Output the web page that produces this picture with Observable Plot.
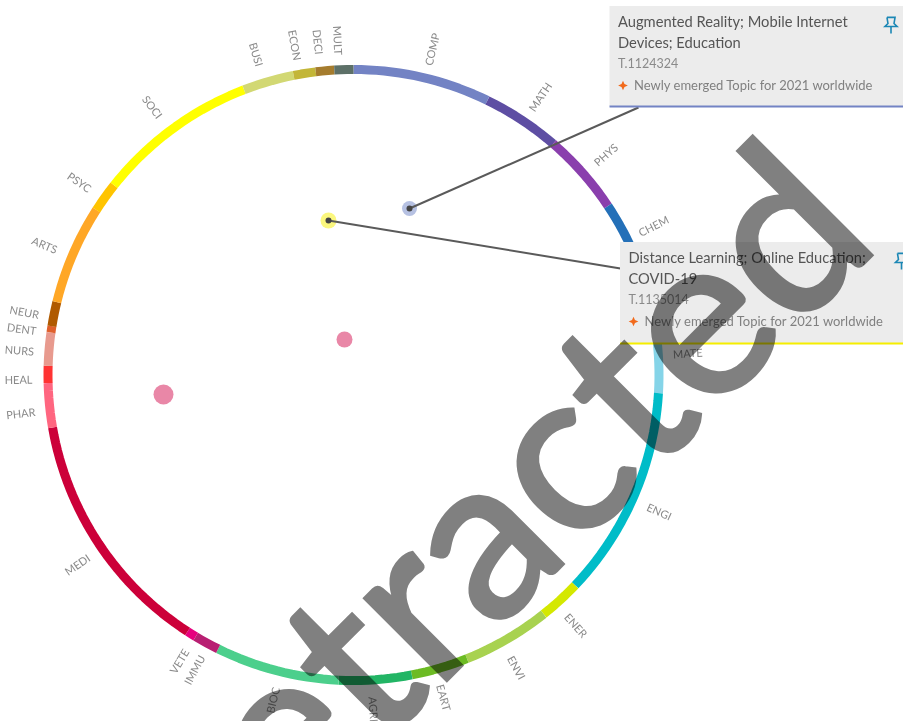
<!DOCTYPE html>
<html><head><meta charset="utf-8">
<style>html,body{margin:0;padding:0;background:#fff;overflow:hidden}svg{display:block}</style>
<script src="https://cdn.jsdelivr.net/npm/d3@7"></script>
<script src="https://cdn.jsdelivr.net/npm/@observablehq/plot@0.6"></script>
</head><body><div id="chart"></div>
<script>
const fields = ["COMP","MATH","PHYS","CHEM","MATE","ENGI","ENER","ENVI","EART","AGRI","BIOC","IMMU","VETE","MEDI","PHAR","HEAL","NURS","DENT","NEUR","ARTS","PSYC","SOCI","BUSI","ECON","DECI","MULT"];
const arcEnds = [26,40.8,56.4,72,93.4,133.5,141.5,158.2,169,182.8,206.3,211.1,212.9,260.1,268.5,271.7,278,279.2,283.8,302.7,308.4,339,348.7,352.9,356.4,360];
const fieldColors = ["#7383c4","#5e4ea3","#8a3fad","#2470b8","#85d4e8","#00bcc8","#d4e800","#a8d250","#6cbb23","#22b565","#4ccf8c","#b81f72","#e6007e","#cc0039","#ff6680","#ff3333","#e89a8e","#e0602c","#b05a00","#ffa726","#ffc400","#ffff00","#d2d873","#c3b638","#a57c2e","#5d7068"];
const labelAngles = [13.7,34,49,63.7,86.4,114.2,138.5,151,164.5,176.7,193.8,208.2,211.2,235.4,263.3,269.1,274.1,277.8,280.7,292.7,305,323,343,349.8,353.8,357.2];
const ringRadius = 305.5, labelRadius = 335;

const topicX = [56,-25,-9,-190];
const topicY = [166.5,154.5,35.5,-19.5];
const topicColors = ["#b6c1e2","#fbf77e","#e987a7","#e987a7"];
const topicR = [7.5,8,8,10];
const leaderEndX = [285,267];
const leaderEndY = [267.5,106.5];
const leaderStartX = [56,-25];
const leaderStartY = [166.5,154.5];

const cardIds = ["T.1124324","T.1135014"];
const cardTitles = [["Augmented Reality; Mobile Internet","Devices; Education"],["Distance Learning; Online Education;","COVID-19"]];
const cardNote = "Newly emerged Topic for 2021 worldwide";
const cardX = [256.5,267];
const cardTop = [368.5,132.5];
const cardBottom = [268.5,31.5];
const cardAccent = ["#7383c4","#f5ee00"];
const watermark = "Retracted";

const rad = d => d * Math.PI / 180;
const polarX = (a, r) => r * Math.sin(rad(a));
const polarY = (a, r) => r * Math.cos(rad(a));
const ring = fields.flatMap((f, i) => {
  const a0 = i ? arcEnds[i - 1] : 0, a1 = arcEnds[i];
  const n = Math.max(2, Math.ceil((a1 - a0) / 1.5));
  return d3.range(n + 1).map(k => ({f, a: a0 + (a1 - a0) * k / n}));
});
const labels = fields.map((f, i) => ({f, a: labelAngles[i]}));
const leaders = leaderStartX.map((x, i) => ({x1: x, y1: leaderStartY[i], x2: leaderEndX[i], y2: leaderEndY[i]}));
const topics = topicX.map((x, i) => ({x, y: topicY[i], c: topicColors[i], r: topicR[i]}));
const cards = cardIds.map((id, i) => ({id, i, x: cardX[i], top: cardTop[i], bottom: cardBottom[i], accent: cardAccent[i]}));
const titleLines = cards.flatMap((c, i) => cardTitles[i].map((t, k) => ({t, x: c.x + 8, y: c.top - 16 - k * 21})));
const pin = {draw(ctx, size) {
  const s = Math.sqrt(size) / 14;
  const P = [[-4,-7],[4,-7],[3,-1],[6,2],[-6,2],[-3,-1],[-4,-7]];
  P.forEach((p, i) => i ? ctx.lineTo(p[0]*s, p[1]*s) : ctx.moveTo(p[0]*s, p[1]*s));
  ctx.moveTo(0, 2*s); ctx.lineTo(0, 9*s);
}};
const spark = {draw(ctx, size) {
  const s = Math.sqrt(size) / 2;
  ctx.moveTo(0,-s); ctx.lineTo(s*.3,-s*.3); ctx.lineTo(s,0); ctx.lineTo(s*.3,s*.3);
  ctx.lineTo(0,s); ctx.lineTo(-s*.3,s*.3); ctx.lineTo(-s,0); ctx.lineTo(-s*.3,-s*.3); ctx.closePath();
}};
const font = "'Lato','Open Sans',sans-serif";

const chart = Plot.plot({
  width: 903, height: 721, margin: 0,
  x: {domain: [-353, 550], range: [0, 903], axis: null},
  y: {domain: [-346.5, 374.5], range: [721, 0], axis: null},
  r: {type: "identity"},
  color: {domain: fields, range: fieldColors},
  style: {background: "#fff", fontFamily: font},
  marks: [
    Plot.line(ring, {x: d => polarX(d.a, ringRadius), y: d => polarY(d.a, ringRadius), z: "f", stroke: "f", strokeWidth: 9, strokeLinecap: "butt", curve: "linear"}),
    Plot.text(labels, {x: d => polarX(d.a, labelRadius), y: d => polarY(d.a, labelRadius), text: "f",
      rotate: d => d.a < 180 ? d.a - 90 : d.a - 270, fontSize: 11, fill: "#8a8a8a", fontFamily: font}),
    Plot.dot(topics, {x: "x", y: "y", r: "r", fill: "c", stroke: null}),
    Plot.link(leaders, {x1: "x1", y1: "y1", x2: "x2", y2: "y2", stroke: "#5a5a5a", strokeWidth: 2}),
    Plot.dot(leaders, {x: "x1", y: "y1", r: () => 3, fill: "#444", stroke: null}),
    Plot.rect(cards, {x1: "x", x2: () => 550, y1: "bottom", y2: "top", fill: "#ececec"}),
    Plot.ruleY(cards, {y: "bottom", x1: "x", x2: () => 550, stroke: "accent", strokeWidth: 2}),
    Plot.text(titleLines, {x: "x", y: "y", text: "t", textAnchor: "start", fontSize: 14.7, fill: "#555"}),
    Plot.text(cards, {x: d => d.x + 8, y: d => d.top - 57, text: "id", textAnchor: "start", fontSize: 12.5, fill: "#8a8a8a"}),
    Plot.text(cards, {x: d => d.x + 24, y: d => d.top - 79, text: () => cardNote, textAnchor: "start", fontSize: 13, fill: "#808080"}),
    Plot.dot(cards, {x: d => d.x + 13, y: d => d.top - 79, symbol: () => spark, r: () => 5.5, fill: "#f26a1b", stroke: null}),
    Plot.dot(cards, {x: d => d.x + 281, y: d => d.top - 18, symbol: () => pin, r: () => 8, fill: "none", stroke: "#1b87b5", strokeWidth: 1.6}),
    Plot.text([watermark], {x: () => 135, y: () => -160, text: d => d, rotate: -45, fontSize: 228, fontWeight: 400, fontFamily: "Lato", fill: "#808080", stroke: "#808080", strokeWidth: 4, strokeLinejoin: "miter", mixBlendMode: "multiply"})
  ]
});
document.getElementById("chart").append(chart);
</script></body></html>
